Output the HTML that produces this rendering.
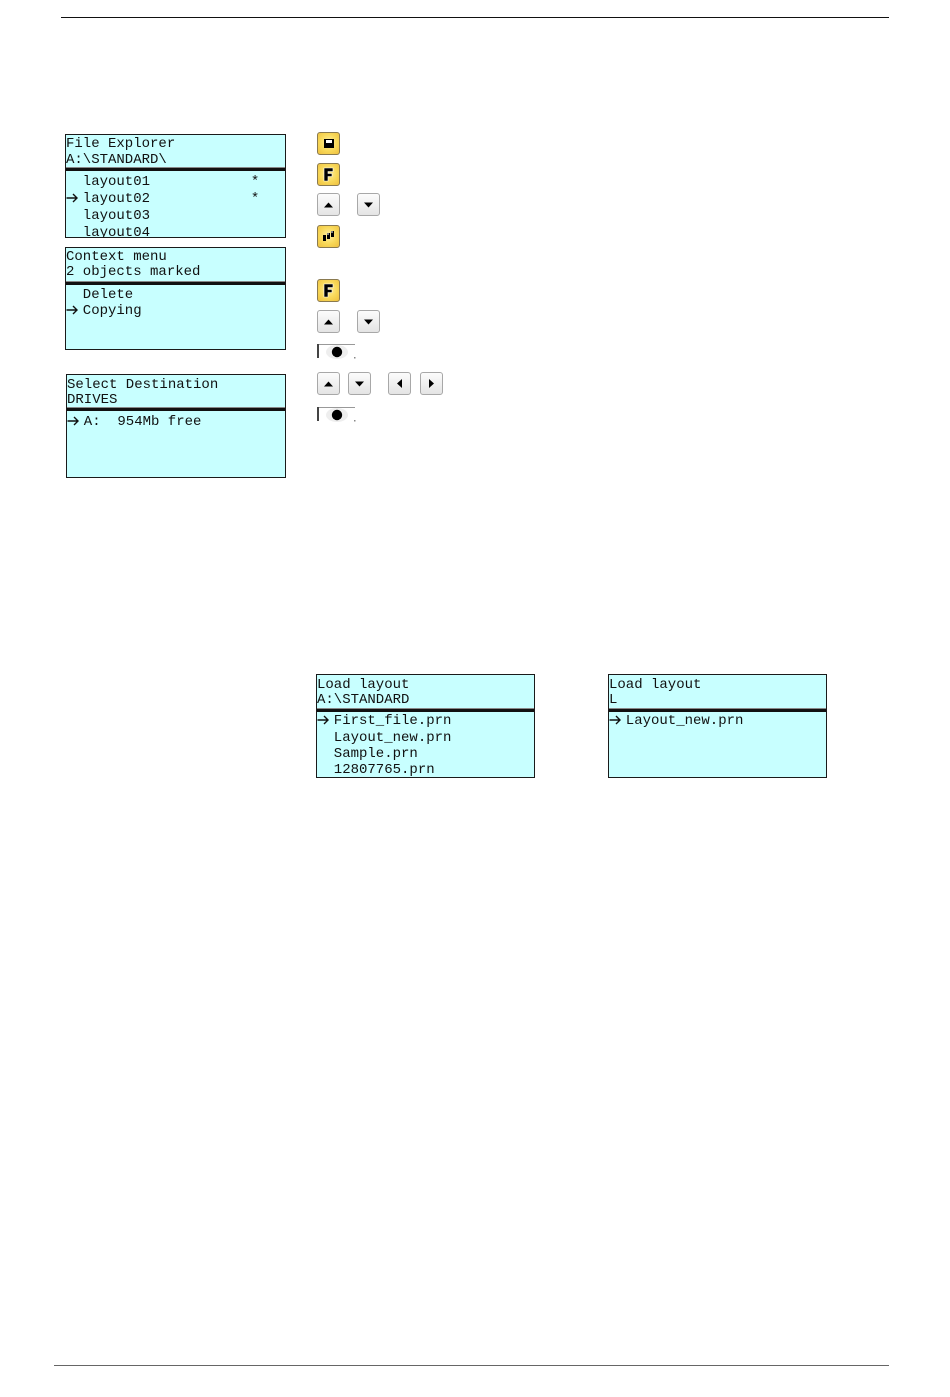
<!DOCTYPE html>
<html>
<head>
<meta charset="utf-8">
<style>
html,body{margin:0;padding:0;background:#fff;}
body{width:950px;height:1397px;position:relative;overflow:hidden;}
.hl{position:absolute;height:1px;}
.box{position:absolute;box-sizing:border-box;border:1px solid #1a1a1a;background:#c8ffff;overflow:hidden;}
.ln{position:absolute;left:0;white-space:pre;font-family:"Liberation Mono","DejaVu Sans Mono",monospace;font-size:14px;line-height:16px;color:#111;}
.ar{display:inline-block;width:16.8px;height:16px;vertical-align:top;position:relative;}
.ar svg{position:absolute;left:0;top:0;}
.sep{position:absolute;left:0;right:0;height:3px;background:#111;border-top:1px solid #888;}
.btn{position:absolute;width:23px;height:23px;box-sizing:border-box;border-radius:3px;}
.g{border:1px solid #a8a8a8;background:linear-gradient(#fcfcfc,#e4e4e4);}
.y{border:1px solid #8a7a50;background:radial-gradient(circle at 50% 45%,#fff0a0 0%,#f8d858 55%,#eec040 100%);}
.btn svg{position:absolute;left:0;top:0;}
.tog{position:absolute;width:40px;height:16px;}
</style>
</head>
<body>
<div class="hl" style="left:61px;top:17px;width:828px;background:#111;"></div>
<div class="hl" style="left:54px;top:1365px;width:835px;background:#666;"></div>

<!-- Box 1 -->
<div class="box" style="left:65px;top:134px;width:221px;height:104px;">
  <div class="ln" style="top:1px;">File Explorer</div>
  <div class="ln" style="top:17px;">A:\STANDARD\</div>
  <div class="sep" style="top:32px;"></div>
  <div class="ln" style="top:39px;">  layout01            *</div>
  <div class="ln" style="top:56px;"><span class="ar"><svg width="17" height="16"><path d="M0.5 7 H11 M7 3 L11 7 L7 11" fill="none" stroke="#111" stroke-width="1.4"/></svg></span>layout02            *</div>
  <div class="ln" style="top:73px;">  layout03</div>
  <div class="ln" style="top:90px;">  layout04</div>
</div>

<!-- Box 2 -->
<div class="box" style="left:65px;top:247px;width:221px;height:103px;">
  <div class="ln" style="top:1px;">Context menu</div>
  <div class="ln" style="top:16px;">2 objects marked</div>
  <div class="sep" style="top:33px;"></div>
  <div class="ln" style="top:39px;">  Delete</div>
  <div class="ln" style="top:55px;"><span class="ar"><svg width="17" height="16"><path d="M0.5 7 H11 M7 3 L11 7 L7 11" fill="none" stroke="#111" stroke-width="1.4"/></svg></span>Copying</div>
</div>

<!-- Box 3 -->
<div class="box" style="left:66px;top:374px;width:220px;height:104px;">
  <div class="ln" style="top:2px;">Select Destination</div>
  <div class="ln" style="top:17px;">DRIVES</div>
  <div class="sep" style="top:32px;"></div>
  <div class="ln" style="top:39px;"><span class="ar"><svg width="17" height="16"><path d="M0.5 7 H11 M7 3 L11 7 L7 11" fill="none" stroke="#111" stroke-width="1.4"/></svg></span>A:  954Mb free</div>
</div>

<!-- Box 4 -->
<div class="box" style="left:316px;top:674px;width:219px;height:104px;">
  <div class="ln" style="top:2px;">Load layout</div>
  <div class="ln" style="top:17px;">A:\STANDARD</div>
  <div class="sep" style="top:33px;"></div>
  <div class="ln" style="top:38px;"><span class="ar"><svg width="17" height="16"><path d="M0.5 7 H11 M7 3 L11 7 L7 11" fill="none" stroke="#111" stroke-width="1.4"/></svg></span>First_file.prn</div>
  <div class="ln" style="top:55px;">  Layout_new.prn</div>
  <div class="ln" style="top:71px;">  Sample.prn</div>
  <div class="ln" style="top:87px;">  12807765.prn</div>
</div>

<!-- Box 5 -->
<div class="box" style="left:608px;top:674px;width:219px;height:104px;">
  <div class="ln" style="top:2px;">Load layout</div>
  <div class="ln" style="top:17px;">L</div>
  <div class="sep" style="top:33px;"></div>
  <div class="ln" style="top:38px;"><span class="ar"><svg width="17" height="16"><path d="M0.5 7 H11 M7 3 L11 7 L7 11" fill="none" stroke="#111" stroke-width="1.4"/></svg></span>Layout_new.prn</div>
</div>

<!-- Buttons -->
<div class="btn y" style="left:317px;top:132px;">
  <svg width="21" height="21"><rect x="6" y="6" width="10" height="9" fill="#000"/><rect x="8" y="7" width="6" height="3" fill="#fff"/></svg>
</div>
<div class="btn y" style="left:317px;top:163px;">
  <svg width="21" height="21"><path d="M6 4 H15 V7.5 H10 V9.5 H14 V12.5 H10 V17 H6 Z" fill="#000" stroke="#fff" stroke-width="0.6"/></svg>
</div>
<div class="btn g" style="left:317px;top:193px;"><svg width="21" height="21"><polygon points="6,13.5 15,13.5 10.5,8.5" fill="#000"/></svg></div>
<div class="btn g" style="left:357px;top:193px;"><svg width="21" height="21"><polygon points="6,8.5 15,8.5 10.5,13.5" fill="#000"/></svg></div>
<div class="btn y" style="left:317px;top:225px;">
  <svg width="21" height="21"><rect x="5" y="9" width="3" height="6" fill="#000"/><rect x="9" y="7" width="3" height="6" fill="#000"/><rect x="13" y="5" width="3" height="6" fill="#000"/><rect x="9.5" y="7" width="1" height="2" fill="#fff"/><rect x="13.5" y="5" width="1" height="2" fill="#fff"/></svg>
</div>
<div class="btn y" style="left:317px;top:279px;">
  <svg width="21" height="21"><path d="M6 4 H15 V7.5 H10 V9.5 H14 V12.5 H10 V17 H6 Z" fill="#000" stroke="#fff" stroke-width="0.6"/></svg>
</div>
<div class="btn g" style="left:317px;top:310px;"><svg width="21" height="21"><polygon points="6,13.5 15,13.5 10.5,8.5" fill="#000"/></svg></div>
<div class="btn g" style="left:357px;top:310px;"><svg width="21" height="21"><polygon points="6,8.5 15,8.5 10.5,13.5" fill="#000"/></svg></div>
<svg class="tog" style="left:317px;top:343px;" width="40" height="16">
  <rect x="0" y="1" width="38" height="1" fill="#999"/>
  <rect x="0" y="1" width="2" height="14" fill="#444"/>
  <ellipse cx="20" cy="9" rx="11" ry="7" fill="#eeeeee"/>
  <circle cx="20" cy="9" r="5.2" fill="#000"/>
  <rect x="37" y="14" width="1.5" height="1.5" fill="#888"/>
</svg>
<div class="btn g" style="left:317px;top:372px;"><svg width="21" height="21"><polygon points="6,13.5 15,13.5 10.5,8.5" fill="#000"/></svg></div>
<div class="btn g" style="left:348px;top:372px;"><svg width="21" height="21"><polygon points="6,8.5 15,8.5 10.5,13.5" fill="#000"/></svg></div>
<div class="btn g" style="left:388px;top:372px;"><svg width="21" height="21"><polygon points="13,6 13,15 8,10.5" fill="#000"/></svg></div>
<div class="btn g" style="left:420px;top:372px;"><svg width="21" height="21"><polygon points="8,6 8,15 13,10.5" fill="#000"/></svg></div>
<svg class="tog" style="left:317px;top:406px;" width="40" height="16">
  <rect x="0" y="1" width="38" height="1" fill="#999"/>
  <rect x="0" y="1" width="2" height="14" fill="#444"/>
  <ellipse cx="20" cy="9" rx="11" ry="7" fill="#eeeeee"/>
  <circle cx="20" cy="9" r="5.2" fill="#000"/>
  <rect x="37" y="14" width="1.5" height="1.5" fill="#888"/>
</svg>
</body>
</html>
